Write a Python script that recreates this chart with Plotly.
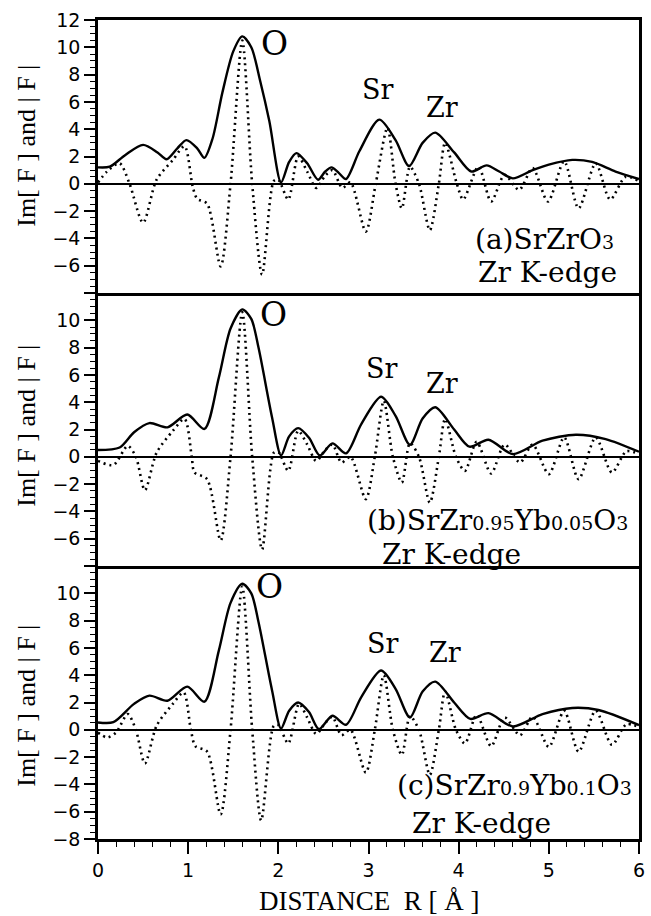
import plotly.graph_objects as go
from plotly.subplots import make_subplots

# ---------------- data ----------------
# panel (a) SrZrO3
xa_mag = [0, 0.13, 0.3, 0.5, 0.66, 0.76, 0.88, 0.98, 1.1, 1.18, 1.27, 1.38, 1.5, 1.6, 1.7, 1.8, 1.9, 2.03, 2.12,
          2.2, 2.32, 2.44, 2.52, 2.59, 2.67, 2.75, 2.9, 3.12, 3.3, 3.45, 3.6, 3.74, 3.95, 4.14, 4.31, 4.45, 4.6,
          4.82, 5.0, 5.26, 5.48, 5.74, 6.0]
ya_mag = [1.2, 1.25, 2.1, 2.85, 2.3, 1.8, 2.6, 3.2, 2.6, 1.9, 3.3, 6.7, 9.7, 10.8, 10.0, 7.5, 4.6, 0.1, 1.6,
          2.25, 1.5, 0.3, 0.9, 1.2, 0.8, 0.35, 2.4, 4.7, 3.2, 1.3, 3.0, 3.75, 2.3, 0.9, 1.35, 0.9, 0.4,
          1.0, 1.4, 1.75, 1.6, 0.9, 0.35]
xa_im = [0, 0.1, 0.24, 0.35, 0.5, 0.65, 0.83, 0.96, 1.05, 1.1, 1.21, 1.36, 1.47, 1.6, 1.71, 1.82, 1.95, 2.0,
         2.11, 2.22, 2.32, 2.42, 2.52, 2.6, 2.71, 2.8, 2.97, 3.08, 3.21, 3.3, 3.37, 3.46, 3.56, 3.68, 3.78,
         3.85, 3.98, 4.05, 4.22, 4.36, 4.51, 4.67, 4.82, 4.99, 5.17, 5.33, 5.52, 5.68, 5.85, 6.0]
ya_im = [0.1, 0.9, 1.5, 0, -2.85, 0.3, 1.75, 2.75, -0.2, -1.1, -1.45, -6.05, 0, 10.5, 0, -6.65, 0.2, 0.3,
         -1.15, 2.0, 0.9, -0.3, 0.6, 1.0, -0.3, 0.1, -3.5, 0, 4.1, 0, -1.8, 1.25, 0, -3.4, 0,
         3.0, 0, -1.15, 1.25, -1.3, 0.65, -0.45, 1.15, -1.3, 1.65, -1.8, 1.5, -1.15, 0.5, 0.2]

# panel (b) SrZr0.95Yb0.05O3
xb_mag = [0, 0.24, 0.4, 0.57, 0.77, 0.99, 1.18, 1.34, 1.47, 1.6, 1.7, 1.78, 1.93, 2.03, 2.12, 2.22, 2.34, 2.46,
          2.6, 2.75, 2.92, 3.14, 3.3, 3.46, 3.6, 3.74, 3.95, 4.12, 4.33, 4.6, 4.93, 5.3, 5.63, 6.0]
yb_mag = [0.5, 0.68, 1.8, 2.47, 2.16, 3.1, 2.04, 5.8, 9.4, 10.8, 10.1, 8.0, 2.9, 0.1, 1.5, 2.1, 1.4, 0.1,
          0.98, 0.25, 2.4, 4.4, 3.0, 0.88, 2.8, 3.63, 2.0, 0.74, 1.25, 0.2, 1.18, 1.62, 1.3, 0.37]
xb_im = [0, 0.17, 0.33, 0.42, 0.52, 0.65, 0.83, 0.96, 1.04, 1.07, 1.21, 1.36, 1.47, 1.6, 1.71, 1.82, 1.95, 2.0,
         2.11, 2.22, 2.32, 2.42, 2.52, 2.6, 2.7, 2.8, 2.97, 3.07, 3.17, 3.27, 3.37, 3.46, 3.56, 3.68, 3.78,
         3.85, 3.97, 4.07, 4.2, 4.36, 4.51, 4.68, 4.82, 5.0, 5.17, 5.33, 5.52, 5.7, 5.86, 6.0]
yb_im = [-0.3, -0.6, 0.8, 0, -2.45, 0.3, 1.9, 2.77, 0, -1.15, -1.64, -6.13, 0, 10.6, 0, -6.79, 0.3, 0.35,
         -1.03, 1.9, 0.9, -0.3, 0.5, 0.9, -0.42, 0, -3.1, 0, 4.1, 0, -1.89, 1.0, 0, -3.36, 0,
         2.77, 0, -1.03, 1.1, -1.22, 0.9, -0.42, 0.9, -1.27, 1.42, -1.64, 1.42, -1.15, 0.4, 0.2]

# panel (c) SrZr0.9Yb0.1O3
xc_mag = [0, 0.17, 0.4, 0.57, 0.77, 0.99, 1.18, 1.34, 1.47, 1.6, 1.7, 1.78, 1.93, 2.03, 2.12, 2.22, 2.34, 2.45,
          2.6, 2.75, 2.92, 3.14, 3.3, 3.46, 3.6, 3.74, 3.95, 4.13, 4.33, 4.6, 4.93, 5.26, 5.55, 6.0]
yc_mag = [0.54, 0.56, 1.9, 2.5, 2.13, 3.16, 2.06, 5.8, 9.3, 10.7, 10.0, 7.9, 2.9, 0.1, 1.4, 2.0, 1.3, 0.05,
          1.03, 0.37, 2.4, 4.34, 3.0, 0.9, 2.8, 3.53, 2.0, 0.8, 1.22, 0.25, 1.15, 1.6, 1.45, 0.34]
xc_im = [0, 0.1, 0.2, 0.33, 0.42, 0.52, 0.65, 0.83, 0.95, 1.03, 1.08, 1.21, 1.36, 1.47, 1.6, 1.71, 1.81, 1.95,
         2.0, 2.11, 2.23, 2.32, 2.42, 2.52, 2.6, 2.7, 2.8, 2.97, 3.07, 3.17, 3.27, 3.37, 3.46, 3.56, 3.68,
         3.78, 3.85, 3.97, 4.07, 4.2, 4.36, 4.51, 4.68, 4.82, 5.0, 5.17, 5.33, 5.52, 5.7, 5.86, 6.0]
yc_im = [-0.2, -0.56, -0.2, 1.15, 0, -2.47, 0.3, 1.9, 2.74, 0, -1.2, -1.6, -6.2, 0, 10.5, 0, -6.64, 0.3,
         0.35, -1.0, 1.9, 0.9, -0.3, 0.5, 0.95, -0.4, 0, -3.14, 0, 4.0, 0, -1.84, 1.0, 0, -3.3,
         0, 2.8, 0, -1.0, 1.1, -1.2, 0.9, -0.4, 0.95, -1.25, 1.4, -1.6, 1.4, -1.1, 0.4, 0.2]

x_ticks = [0, 1, 2, 3, 4, 5, 6]
y_ticks = [-8, -6, -4, -2, 0, 2, 4, 6, 8, 10, 12]
y_labels_top = ["", "−6", "−4", "−2", "0", "2", "4", "6", "8", "10", "12"]
y_labels_mid = ["", "−6", "−4", "−2", "0", "2", "4", "6", "8", "10", ""]
y_labels_bot = ["−8", "−6", "−4", "−2", "0", "2", "4", "6", "8", "10", ""]

panels = [
    (xa_mag, ya_mag, xa_im, ya_im),
    (xb_mag, yb_mag, xb_im, yb_im),
    (xc_mag, yc_mag, xc_im, yc_im),
]

SERIF = "DejaVu Serif"
TSERIF = "Liberation Serif"
SANS = "DejaVu Sans"

fig = make_subplots(rows=3, cols=1, shared_xaxes=True, vertical_spacing=0)

for i, (xm, ym, xi, yi) in enumerate(panels, start=1):
    fig.add_trace(go.Scatter(x=xi, y=yi, mode="lines", line=dict(color="black", width=2.6, dash="2px,4px", shape="spline", smoothing=0.8),
                             showlegend=False, hoverinfo="skip"), row=i, col=1)
    fig.add_trace(go.Scatter(x=xm, y=ym, mode="lines", line=dict(color="black", width=2.4, shape="spline", smoothing=0.8),
                             showlegend=False, hoverinfo="skip"), row=i, col=1)

ylabels = [y_labels_top, y_labels_mid, y_labels_bot]
for i in range(1, 4):
    fig.update_yaxes(range=[-8, 12], tickvals=y_ticks, ticktext=ylabels[i - 1], ticks="outside", ticklen=11,
                     tickwidth=1.5, tickcolor="black", showline=True, linecolor="black", linewidth=2.5, mirror=True,
                     zeroline=True, zerolinecolor="black", zerolinewidth=2, showgrid=False,
                     tickfont=dict(family=SANS, size=19, color="black"),
                     minor=dict(dtick=0.5, ticks="outside", ticklen=5, tickcolor="black", tickwidth=1, showgrid=False),
                     row=i, col=1)
    fig.update_xaxes(range=[0, 6], showline=True, linecolor="black", linewidth=2.5,
                     mirror=(i == 1), showgrid=False, zeroline=False, row=i, col=1)

fig.update_xaxes(ticks="", row=1, col=1)
fig.update_xaxes(ticks="", row=2, col=1)
fig.update_xaxes(tickvals=x_ticks, ticks="outside", ticklen=12, tickwidth=1.5, tickcolor="black",
                 tickfont=dict(family=SANS, size=19, color="black"),
                 minor=dict(dtick=0.2, ticks="outside", ticklen=5, tickcolor="black", tickwidth=1, showgrid=False),
                 showticklabels=True, row=3, col=1)

ann = []
yrefs = ["y", "y2", "y3"]
# peak labels
o_pos = [(1.96, 10.3), (1.95, 10.4), (1.9, 10.5)]
sr_pos = [(3.1, 6.9), (3.14, 6.45), (3.15, 6.3)]
zr_pos = [(3.81, 5.6), (3.81, 5.35), (3.85, 5.7)]
for k in range(3):
    ann.append(dict(x=o_pos[k][0], y=o_pos[k][1], xref="x", yref=yrefs[k], text="O", showarrow=False,
                    font=dict(family=SERIF, size=33, color="black")))
    ann.append(dict(x=sr_pos[k][0], y=sr_pos[k][1], xref="x", yref=yrefs[k], text="Sr", showarrow=False,
                    font=dict(family=SERIF, size=27, color="black")))
    ann.append(dict(x=zr_pos[k][0], y=zr_pos[k][1], xref="x", yref=yrefs[k], text="Zr", showarrow=False,
                    font=dict(family=SERIF, size=27, color="black")))

sm = "<span style='font-size:19px'>%s</span>"
sample_labels = [
    "(a)SrZrO" + sm % "3",
    "(b)SrZr" + sm % "0.95" + "Yb" + sm % "0.05" + "O" + sm % "3",
    "(c)SrZr" + sm % "0.9" + "Yb" + sm % "0.1" + "O" + sm % "3",
]
lab_pos = [(4.16, -4.1), (2.96, -4.7), (3.29, -4.1)]
edge_pos = [(4.19, -6.5), (3.13, -7.13), (3.46, -6.9)]
for k in range(3):
    ann.append(dict(x=lab_pos[k][0], y=lab_pos[k][1], xref="x", yref=yrefs[k], text=sample_labels[k],
                    showarrow=False, xanchor="left", yanchor="middle",
                    font=dict(family=SERIF, size=28, color="black")))
    ann.append(dict(x=edge_pos[k][0], y=edge_pos[k][1], xref="x", yref=yrefs[k], text="Zr K-edge",
                    showarrow=False, xanchor="left", yanchor="middle",
                    font=dict(family=SERIF, size=28, color="black")))

# y axis titles (one per panel)
plot_top, plot_bot = 20, 839
H = plot_bot - plot_top
for cy in [146, 426, 706]:
    ann.append(dict(x=-0.1335, y=(plot_bot - cy) / H, xref="paper", yref="paper", text="Im[ F ] and | F |",
                    textangle=-90, showarrow=False, xanchor="center", yanchor="middle",
                    font=dict(family=TSERIF, size=26, color="black")))
# x axis title
ann.append(dict(x=(373 - 98) / 547, y=(plot_bot - 901) / H, xref="paper", yref="paper", text="DISTANCE  R [ Å ]",
                showarrow=False, xanchor="center", yanchor="middle",
                font=dict(family=TSERIF, size=27, color="black")))

fig.update_layout(width=651, height=916, margin=dict(l=98, r=6, t=20, b=77), plot_bgcolor="white",
                  paper_bgcolor="white", annotations=ann, showlegend=False)

fig.write_html("out.html")
